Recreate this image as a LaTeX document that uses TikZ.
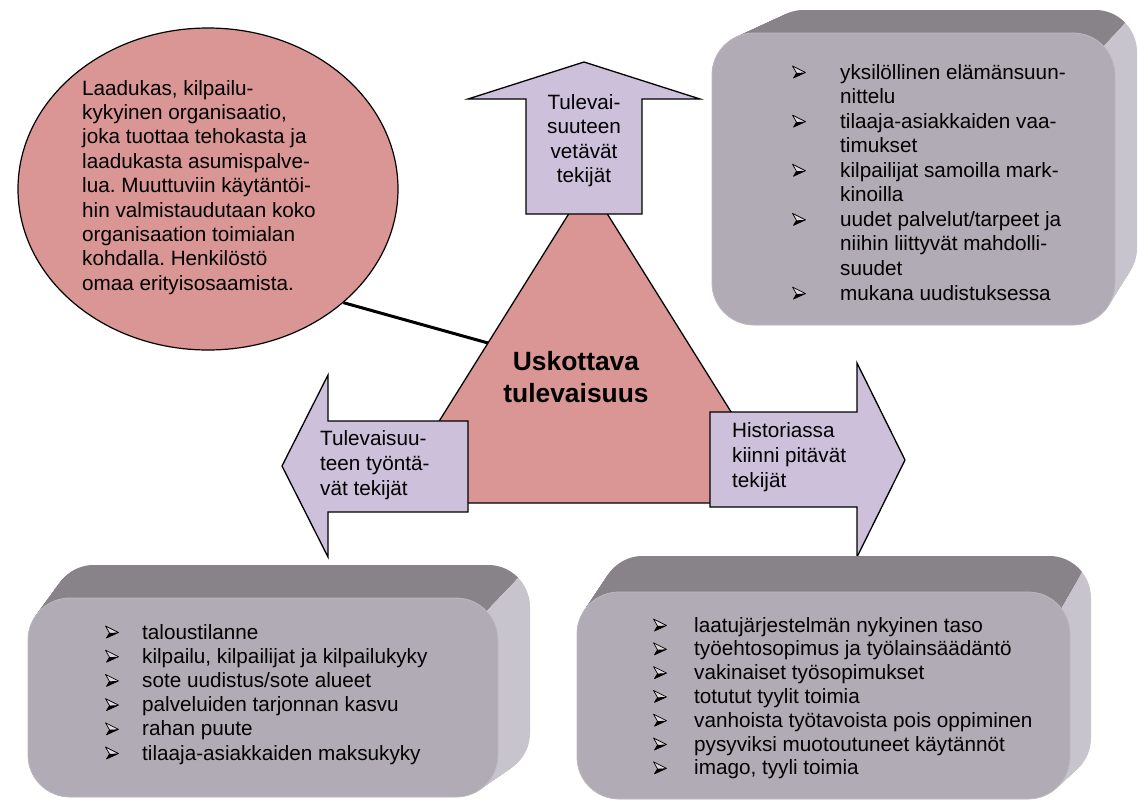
\documentclass[tikz,border=0pt]{standalone}
\usepackage{fontspec}
\setmainfont{Liberation Sans}
\usetikzlibrary{shapes.geometric,calc}
\frenchspacing

\definecolor{rose}{HTML}{D99694}
\definecolor{lilac}{HTML}{CCC0DA}
\definecolor{face}{HTML}{B0ABB4}
\definecolor{bevtop}{HTML}{878389}
\definecolor{bevside}{HTML}{C8C4CD}
\definecolor{rim}{HTML}{BDB9C1}

\tikzset{
  body/.style={font=\fontsize{20.7}{24.5}\selectfont, inner sep=0pt, anchor=base west},
  ctext/.style={font=\fontsize{20.7}{24.5}\selectfont, inner sep=0pt, anchor=base},
  headline/.style={font=\bfseries\fontsize{26.4}{32}\selectfont, inner sep=0pt, anchor=base},
  shape line/.style={draw=black, line width=1.3pt, line join=miter},
  % three-dimensional arrowhead bullet
  arrowbullet/.pic={
    \fill[white!55!face] (-6.5,-6) -- (6.5,0.5) -- (-2.5,1) -- cycle;
    \fill[black] (-2.5,1) -- (6.5,0.5) -- (-5.5,6) -- cycle;
    \draw[line width=0.7pt, line join=round] (-6.5,-6) -- (6.5,0.5) -- (-5.5,6) -- (-2.5,1) -- cycle;
  },
}

% extruded rounded box: front x1 y1 x2 y2, back x1 y1 x2 y2
\newcommand\bevbox[8]{%
  \foreach \k in {0,...,30}{%
    \fill[bevside, rounded corners=42pt]
      ({#1+(#5-#1)*\k/30},{#2+(#6-#2)*\k/30}) rectangle
      ({#3+(#7-#3)*\k/30},{#4+(#8-#4)*\k/30});
  }%
  \begin{scope}
    \clip ({#1-200},{#2+2*(#2-#6)}) -- ({#3-2*(#7-#3)},{#2+2*(#2-#6)})
      -- ({#3+3*(#7-#3)},{#2+3*(#6-#2)}) -- ({#1-200},{#6-200}) -- cycle;
    \foreach \k in {0,...,30}{%
      \fill[bevtop, rounded corners=42pt]
        ({#1+(#5-#1)*\k/30},{#2+(#6-#2)*\k/30}) rectangle
        ({#3+(#7-#3)*\k/30},{#4+(#8-#4)*\k/30});
    }%
  \end{scope}
  \fill[face, draw=rim, line width=0.8pt, rounded corners=42pt] (#1,#2) rectangle (#3,#4);
}

\begin{document}
\begin{tikzpicture}[x=1pt, y=-1pt]
\fill[white] (0,0) rectangle (1138,804);
\useasboundingbox (0,0) rectangle (1138,804);

% goal ellipse and its link to the triangle
\node[ellipse, draw=black, line width=1.2pt, fill=rose, minimum width=380pt,
      minimum height=322pt, inner sep=0pt] (goal) at (208,189) {};

\coordinate (apex) at (588,183);
\coordinate (base-l) at (388,503);
\coordinate (base-r) at (788,503);
\coordinate (tri-w) at ($(apex)!0.5!(base-l)$);
\draw[line width=3pt] (goal.-40) -- (tri-w);

% central triangle
\filldraw[fill=rose, shape line] (apex) -- (base-r) -- (base-l) -- cycle;

% three block arrows
\filldraw[fill=lilac, shape line] (526,214) -- (526,99) -- (468,99) -- (584,62)
  -- (700,99) -- (642,99) -- (642,214) -- cycle;
\filldraw[fill=lilac, shape line] (468,421) -- (328,421) -- (328,375) -- (282,466)
  -- (328,557) -- (328,512) -- (468,512) -- cycle;
\filldraw[fill=lilac, shape line] (710,412) -- (857,412) -- (857,363) -- (905,460)
  -- (857,557) -- (857,507) -- (710,507) -- cycle;

% three extruded boxes
\bevbox{712}{33}{1115}{325}{762}{10}{1137}{290}
\bevbox{28}{598}{498}{797}{52}{565}{530}{775}
\bevbox{577}{592}{1070}{799}{601}{556}{1091}{780}

% ellipse text
\foreach \txt [count=\i] in {{Laadukas, kilpailu-},{kykyinen organisaatio,},
  {joka tuottaa tehokasta ja},{laadukasta asumispalve-},{lua. Muuttuviin käytäntöi-},
  {hin valmistaudutaan koko},{organisaation toimialan},{kohdalla. Henkilöstö},
  {omaa erityisosaamista.}}
  \node[body] (goal-\i) at (82,{95+24.4*(\i-1)}) {\txt};

% triangle text
\node[headline] (core-1) at (576,370) {Uskottava};
\node[headline] (core-2) at (576,402) {tulevaisuus};

% arrow labels
\foreach \txt [count=\i] in {Tulevai-,suuteen,vetävät,tekijät}
  \node[ctext] (pull-\i) at (584,{109+24.5*(\i-1)}) {\txt};
\foreach \txt [count=\i] in {Tulevaisuu-,teen työntä-,vät tekijät}
  \node[body] (push-\i) at (320,{445+25*(\i-1)}) {\txt};
\foreach \txt [count=\i] in {Historiassa,kiinni pitävät,tekijät}
  \node[body] (hold-\i) at (732,{437+25*(\i-1)}) {\txt};

% pull factors list
\foreach \b/\txt [count=\i] in {1/yksilöllinen elämänsuun-,0/nittelu,
  1/tilaaja-asiakkaiden vaa-,0/timukset,1/kilpailijat samoilla mark-,0/kinoilla,
  1/uudet palvelut\slash tarpeet ja,0/niihin liittyvät mahdolli-,0/suudet,
  1/mukana uudistuksessa}{
  \node[body] (pl-\i) at (840,{79+24.56*(\i-1)}) {\txt};
  \ifnum\b=1 \pic (pl-b\i) at (799,{72+24.56*(\i-1)}) {arrowbullet}; \fi
}

% push factors list
\foreach \txt [count=\i] in {taloustilanne,{kilpailu, kilpailijat ja kilpailukyky},
  sote uudistus\slash sote alueet,palveluiden tarjonnan kasvu,rahan puute,
  tilaaja-asiakkaiden maksukyky}{
  \node[body] (ps-\i) at (142,{639+24.2*(\i-1)}) {\txt};
  \pic (ps-b\i) at (112,{632+24.2*(\i-1)}) {arrowbullet};
}

% holding factors list
\foreach \txt [count=\i] in {laatujärjestelmän nykyinen taso,
  työehtosopimus ja työlainsäädäntö,vakinaiset työsopimukset,totutut tyylit toimia,
  vanhoista työtavoista pois oppiminen,pysyviksi muotoutuneet käytännöt,
  {imago, tyyli toimia}}{
  \node[body] (hd-\i) at (694,{632+23.8*(\i-1)}) {\txt};
  \pic (hd-b\i) at (660,{625+23.8*(\i-1)}) {arrowbullet};
}
\end{tikzpicture}
\end{document}
